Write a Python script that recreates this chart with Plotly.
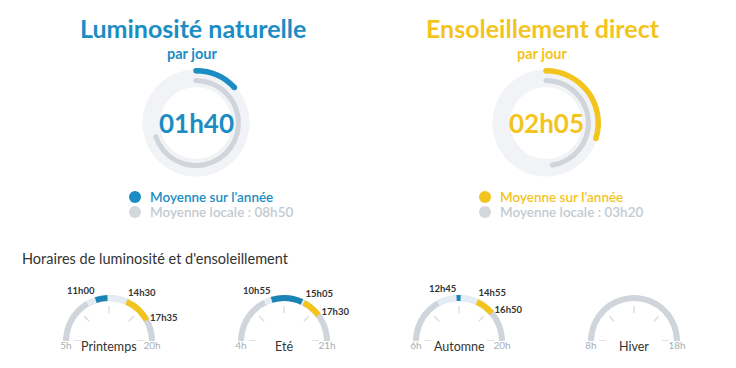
import plotly.graph_objects as go

W, H = 736, 368
FONT = "Lato"
BLUE = "#1b8dc3"
BLUE_DARK = "#1a84b6"
YELLOW = "#f3c41d"
GRAY = "#cfd5da"
TRACK = "#f1f3f6"
LIGHT = "#e3edf3"
TEXT = "#333333"
HOUR_GRAY = "#a7afb5"
LEG_GRAY = "#c3cad0"

# ---------------- data ----------------
LUM_TITLE = "Luminosité naturelle"
SUN_TITLE = "Ensoleillement direct"
SUBTITLE = "par jour"
LEGEND_YEAR = "Moyenne sur l'année"
LEGEND_LOCAL = "Moyenne locale : "
LUM_YEAR = "01h40"
LUM_LOCAL = "08h50"
SUN_YEAR = "02h05"
SUN_LOCAL = "03h20"
LUM_FULL_TURN = "12h40"
SUN_FULL_TURN = "07h00"

SECTION_TITLE = "Horaires de luminosité et d'ensoleillement"
SEASONS = ["Printemps", "Eté", "Automne", "Hiver"]
DAY_START = [5, 4, 6, 8]
DAY_END = [20, 21, 20, 18]
CLEAR_START = ["10h00", "10h00", "10h45", None]
CLEAR_END = ["14h30", "15h05", "14h55", None]
LUM_START = ["11h00", "10h55", "12h45", None]
LUM_END = ["12h20", "14h50", "13h10", None]
SUN_START = ["14h30", "15h05", "14h55", None]
SUN_END = ["17h35", "17h30", "16h50", None]
GAUGE_TICKS = [0, 0.25, 0.5, 0.75, 1]


def minutes(s):
    h, m = s.split("h")
    return int(h) * 60 + int(m)


def fx(x):
    return x / W


def fy(y):
    return 1 - y / H


fig = go.Figure()
layout = {}
annotations = []
shapes = []

# ---------------- donuts ----------------
DONUT_CX = [196, 546]
DONUT_CY = 123
DONUT_R = 56
donuts = [
    (LUM_TITLE, LUM_YEAR, LUM_LOCAL, LUM_FULL_TURN, BLUE),
    (SUN_TITLE, SUN_YEAR, SUN_LOCAL, SUN_FULL_TURN, YELLOW),
]
for k, (title, val, loc, full, col) in enumerate(donuts):
    name = "polar" if k == 0 else "polar%d" % (k + 1)
    cx = DONUT_CX[k]
    layout[name] = dict(
        domain=dict(x=[fx(cx - DONUT_R), fx(cx + DONUT_R)],
                    y=[fy(DONUT_CY + DONUT_R), fy(DONUT_CY - DONUT_R)]),
        bgcolor="rgba(0,0,0,0)",
        radialaxis=dict(range=[0, DONUT_R], visible=False),
        angularaxis=dict(visible=False, direction="clockwise", rotation=90),
    )
    vdeg = minutes(val) / minutes(full) * 360
    ldeg = minutes(loc) / minutes(full) * 360
    fig.add_trace(go.Barpolar(theta=[90, 270], width=[180, 180], base=[36, 36], r=[17.5, 17.5],
                              marker=dict(color=TRACK, line=dict(width=0)),
                              subplot=name, hoverinfo="skip"))
    fig.add_trace(go.Barpolar(theta=[vdeg / 2], width=[vdeg], base=[49.5], r=[5.5],
                              marker=dict(color=col, line=dict(width=0)),
                              subplot=name, hoverinfo="skip"))
    fig.add_trace(go.Scatterpolar(r=[52.25, 52.25], theta=[0, vdeg], mode="markers",
                                  marker=dict(size=5.5, color=col), subplot=name, hoverinfo="skip"))
    fig.add_trace(go.Barpolar(theta=[ldeg / 2], width=[ldeg], base=[40], r=[5],
                              marker=dict(color=GRAY, line=dict(width=0)),
                              subplot=name, hoverinfo="skip"))
    fig.add_trace(go.Scatterpolar(r=[42.5, 42.5], theta=[0, ldeg], mode="markers",
                                  marker=dict(size=5, color=GRAY), subplot=name, hoverinfo="skip"))
    # titles and centre value
    annotations.append(dict(x=fx(cx - 3), y=fy(28), text=title, showarrow=False,
                            xanchor="center", yanchor="middle",
                            font=dict(family=FONT, size=25, color=col, weight=700)))
    annotations.append(dict(x=fx(cx - 4), y=fy(53), text=SUBTITLE, showarrow=False,
                            xanchor="center", yanchor="middle",
                            font=dict(family=FONT, size=14.5, color=col, weight=700)))
    annotations.append(dict(x=fx(cx), y=fy(DONUT_CY), text=val, showarrow=False,
                            xanchor="center", yanchor="middle",
                            font=dict(family=FONT, size=26, color=col, weight=700)))
    # legend
    lx = cx - 61
    for j, (txt, c) in enumerate([(LEGEND_YEAR, col), (LEGEND_LOCAL + loc, LEG_GRAY)]):
        ly = 197 + j * 15
        shapes.append(dict(type="circle", xref="paper", yref="paper",
                           x0=fx(lx - 6), x1=fx(lx + 6), y0=fy(ly + 6), y1=fy(ly - 6),
                           fillcolor=c if j == 0 else "#d3d8dc", line=dict(width=0)))
        annotations.append(dict(x=fx(lx + 13), y=fy(ly), text=txt, showarrow=False,
                                xanchor="left", yanchor="middle",
                                font=dict(family=FONT, size=13.5, color=c, weight=600)))

# ---------------- section title ----------------
annotations.append(dict(x=fx(20), y=fy(258), text=SECTION_TITLE, showarrow=False,
                        xanchor="left", yanchor="middle",
                        font=dict(family=FONT, size=14.5, color=TEXT)))

# ---------------- gauges ----------------
GAUGE_CX = [109, 284, 459, 634]
GAUGE_CY = 341
GAUGE_R = 47
for i, season in enumerate(SEASONS):
    name = "polar%d" % (i + 3)
    cx = GAUGE_CX[i]
    layout[name] = dict(
        domain=dict(x=[fx(cx - GAUGE_R), fx(cx + GAUGE_R)],
                    y=[fy(GAUGE_CY), fy(GAUGE_CY - GAUGE_R)]),
        sector=[0, 180],
        bgcolor="rgba(0,0,0,0)",
        radialaxis=dict(range=[0, GAUGE_R], visible=False),
        angularaxis=dict(visible=False, direction="clockwise", rotation=180),
    )
    start, end = DAY_START[i] * 60, DAY_END[i] * 60

    def ang(s):
        return (minutes(s) - start) / (end - start) * 180

    def seg(a, b, color):
        a1, a2 = ang(a), ang(b)
        fig.add_trace(go.Barpolar(theta=[(a1 + a2) / 2], width=[a2 - a1], base=[40], r=[6],
                                  marker=dict(color=color, line=dict(width=0)),
                                  subplot=name, hoverinfo="skip"))

    fig.add_trace(go.Barpolar(theta=[90], width=[180], base=[40], r=[6],
                              marker=dict(color=GRAY, line=dict(width=0)),
                              subplot=name, hoverinfo="skip"))
    # inner ticks
    tr, tt = [], []
    for f in GAUGE_TICKS:
        tr += [28, 35, None]
        tt += [f * 180, f * 180, None]
    fig.add_trace(go.Scatterpolar(r=tr, theta=tt, mode="lines",
                                  line=dict(color="#d6dbdf", width=1.3),
                                  subplot=name, hoverinfo="skip"))
    if LUM_START[i] is not None:
        seg(CLEAR_START[i], CLEAR_END[i], LIGHT)
        seg(LUM_START[i], LUM_END[i], BLUE_DARK)
        seg(SUN_START[i], SUN_END[i], YELLOW)
        fig.add_trace(go.Scatterpolar(
            r=[47, 47, 47],
            theta=[ang(LUM_START[i]), ang(SUN_START[i]), ang(SUN_END[i])],
            text=[LUM_START[i], SUN_START[i], SUN_END[i]],
            mode="text", textposition=["top left", "top right", "middle right"],
            textfont=dict(family=FONT, size=9.5, color=TEXT, weight=700),
            cliponaxis=False, subplot=name, hoverinfo="skip"))
    fig.add_trace(go.Scatterpolar(
        r=[43, 43], theta=[0, 180],
        text=["%dh" % DAY_START[i], "%dh" % DAY_END[i]],
        mode="text", textposition="bottom center",
        textfont=dict(family=FONT, size=10, color=HOUR_GRAY),
        cliponaxis=False, subplot=name, hoverinfo="skip"))
    annotations.append(dict(x=fx(cx), y=fy(346), text=season, showarrow=False,
                            xanchor="center", yanchor="middle",
                            font=dict(family=FONT, size=12.5, color=TEXT)))

fig.update_layout(
    width=W, height=H,
    margin=dict(l=0, r=0, t=0, b=0),
    paper_bgcolor="white", plot_bgcolor="white",
    showlegend=False,
    annotations=annotations,
    shapes=shapes,
    **layout,
)
fig.write_html("out.html", config={"displayModeBar": False},
               post_script="document.body.style.margin='0';")
